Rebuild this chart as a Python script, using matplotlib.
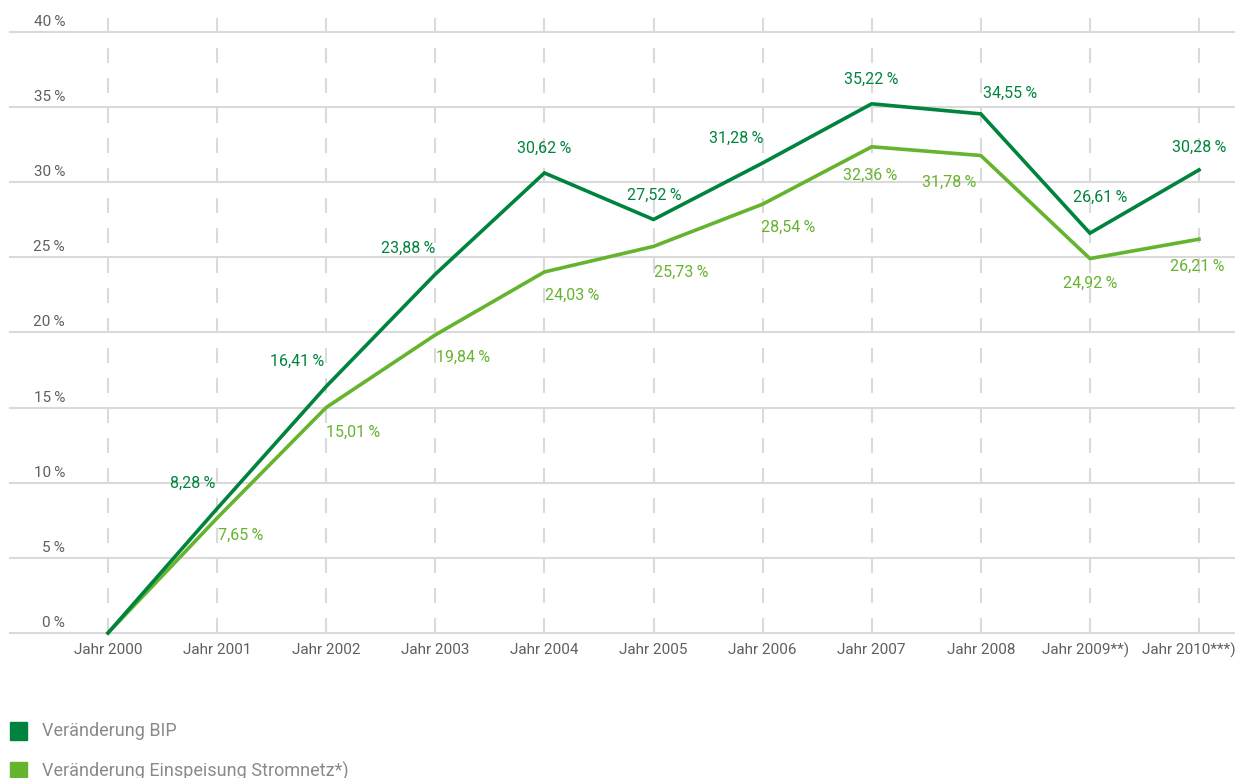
import matplotlib
matplotlib.use("Agg")
import matplotlib.pyplot as plt
from matplotlib.patches import Rectangle

plt.rcParams['font.family'] = ['Roboto', 'DejaVu Sans']

years = ["Jahr 2000", "Jahr 2001", "Jahr 2002", "Jahr 2003", "Jahr 2004", "Jahr 2005",
         "Jahr 2006", "Jahr 2007", "Jahr 2008", "Jahr 2009**)", "Jahr 2010***)"]
bip = [0, 8.28, 16.41, 23.88, 30.62, 27.52, 31.28, 35.22, 34.55, 26.61, 30.82]
bip_labels = ["", "8,28", "16,41", "23,88", "30,62", "27,52", "31,28", "35,22", "34,55", "26,61", "30,28"]
strom = [0, 7.65, 15.01, 19.84, 24.03, 25.73, 28.54, 32.36, 31.78, 24.92, 26.21]
strom_labels = ["", "7,65", "15,01", "19,84", "24,03", "25,73", "28,54", "32,36", "31,78", "24,92", "26,21"]
yticks = [0, 5, 10, 15, 20, 25, 30, 35, 40]
series_names = ["Veränderung BIP", "Veränderung Einspeisung Stromnetz*)"]

DARK = "#00843D"
LIGHT = "#66B32E"
GRID = "#DADADA"
TXT = "#5F5F5F"

W, H = 1235, 778
fig = plt.figure(figsize=(W / 100, H / 100), dpi=100)
left_px, right_px = 10, 1235
bot_px, top_px = 633, 18
ax = fig.add_axes([left_px / W, 1 - bot_px / H, (right_px - left_px) / W, (bot_px - top_px) / H])
px_per_cat = (1199 - 108) / 10
ax.set_xlim(-(108 - left_px) / px_per_cat, 10 + (right_px - 1199) / px_per_cat)
px_per_pct = (633 - 32) / 40
ax.set_ylim(0, (bot_px - top_px) / px_per_pct)
for s in ax.spines.values():
    s.set_visible(False)
ax.set_xticks([])
ax.set_yticks([])

x = list(range(len(years)))
for yv in yticks:
    ax.axhline(yv, color=GRID, lw=1.5, zorder=1, clip_on=False)
    ax.annotate(f"{yv}\u2009%", xy=(0, yv), xycoords=('axes fraction', 'data'),
                xytext=(55, 3), textcoords='offset pixels', ha='right', va='bottom',
                fontsize=11, color=TXT)
xlab_off = [0, 0, 0, 0, 0, 0, 0, 0, 0, -4, -10]
for xi in x:
    ax.axvline(xi, color=GRID, lw=1.5, dashes=(7.2, 7.2), zorder=1)
    ax.annotate(years[xi], xy=(xi, 0), xycoords='data', xytext=(xlab_off[xi], -10),
                textcoords='offset pixels', ha='center', va='top', fontsize=11,
                color=TXT)

ax.plot(x, strom, color=LIGHT, lw=2.6, zorder=3, clip_on=False, solid_joinstyle='miter')
ax.plot(x, bip, color=DARK, lw=2.6, zorder=4, clip_on=False, solid_joinstyle='miter')

bip_off = [None, (-24, 18), (-29, 18), (-27, 18), (0, 17), (1, 17), (-26, 17), (0, 17), (29, 13), (10, 28), (0, 15)]
strom_off = [None, (24, -10), (27, -17), (28, -15), (28, -16), (28, -18), (26, -16), (-2, -21), (-32, -19), (0, -17), (-2, -20)]
for xi in x:
    if bip_labels[xi]:
        ax.annotate(bip_labels[xi] + "\u2009%", xy=(xi, bip[xi]), xytext=bip_off[xi],
                    textcoords='offset pixels', ha='center', va='bottom', fontsize=11.5,
                    color=DARK)
    if strom_labels[xi]:
        ax.annotate(strom_labels[xi] + "\u2009%", xy=(xi, strom[xi]), xytext=strom_off[xi],
                    textcoords='offset pixels', ha='center', va='top', fontsize=11.5,
                    color=LIGHT)

for i, (name, col) in enumerate(zip(series_names, [DARK, LIGHT])):
    yc = 731 + i * 40
    fig.patches.append(Rectangle((10 / W, 1 - (yc + 9) / H), 17 / W, 18 / H,
                                 transform=fig.transFigure, color=col))
    fig.text(42 / W, 1 - yc / H, name, ha='left', va='center', fontsize=13,
             color="#8A8A8A")

fig.savefig("out.png", dpi=100)
